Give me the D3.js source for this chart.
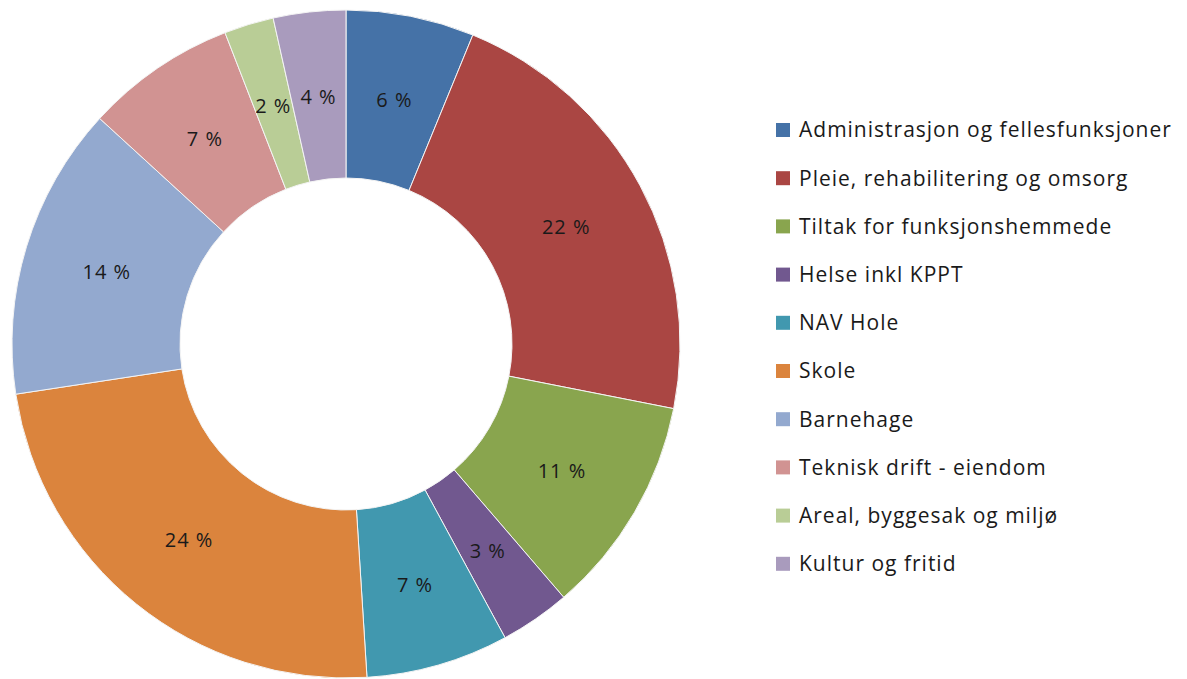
<!DOCTYPE html>
<html>
<head>
<meta charset="utf-8">
<script src="https://cdn.jsdelivr.net/npm/d3@7"></script>
<style>
  body { margin: 0; background: #fff; }
  text { font-family: "Open Sans", "Liberation Sans", Arial, sans-serif; fill: #1a1a1a; }
</style>
</head>
<body>
<svg id="chart" width="1187" height="679"></svg>
<script>
// data (share of total, %)
var categories = ['Administrasjon og fellesfunksjoner', 'Pleie, rehabilitering og omsorg',
  'Tiltak for funksjonshemmede', 'Helse inkl KPPT', 'NAV Hole', 'Skole', 'Barnehage',
  'Teknisk drift - eiendom', 'Areal, byggesak og miljø', 'Kultur og fritid']
var values = [6.2, 21.9, 10.6, 3.4, 6.9, 23.6, 14.2, 7.3, 2.4, 3.5]
var colors = ['#4572A7', '#AA4643', '#89A54E', '#71588F', '#4198AF',
  '#DB843D', '#93A9CF', '#D19392', '#B9CD96', '#A99BBD']

var svg = d3.select('#chart')
var cx = 346, cy = 344
var outerR = 334, innerR = 166

var pie = d3.pie().sort(null).value(d => d)
var arc = d3.arc().innerRadius(innerR).outerRadius(outerR)
var labelArc = d3.arc().innerRadius((innerR + outerR) / 2).outerRadius((innerR + outerR) / 2)

var g = svg.append('g').attr('transform', `translate(${cx},${cy})`)
var arcs = pie(values)

g.selectAll('path')
  .data(arcs)
  .enter().append('path')
  .attr('d', arc)
  .attr('fill', (d, i) => colors[i])
  .attr('stroke', '#f4f4f4')
  .attr('stroke-width', 1)

g.selectAll('text.lbl')
  .data(arcs)
  .enter().append('text')
  .attr('class', 'lbl')
  .attr('transform', d => `translate(${labelArc.centroid(d)})`)
  .attr('text-anchor', 'middle')
  .attr('dy', '0.4em')
  .style('font-size', '20px')
  .style('letter-spacing', '1px')
  .text(d => Math.round(d.value) + ' %')

// legend
var legend = svg.append('g').attr('transform', 'translate(776,130)')
var rows = legend.selectAll('g')
  .data(categories)
  .enter().append('g')
  .attr('transform', (d, i) => `translate(0,${i * 48.2})`)
rows.append('rect')
  .attr('x', 0).attr('y', -7)
  .attr('width', 14).attr('height', 14)
  .attr('fill', (d, i) => colors[i])
rows.append('text')
  .attr('x', 23)
  .attr('dy', '0.35em')
  .style('font-size', '21px')
  .style('letter-spacing', '1px')
  .text(d => d)
</script>
</body>
</html>
